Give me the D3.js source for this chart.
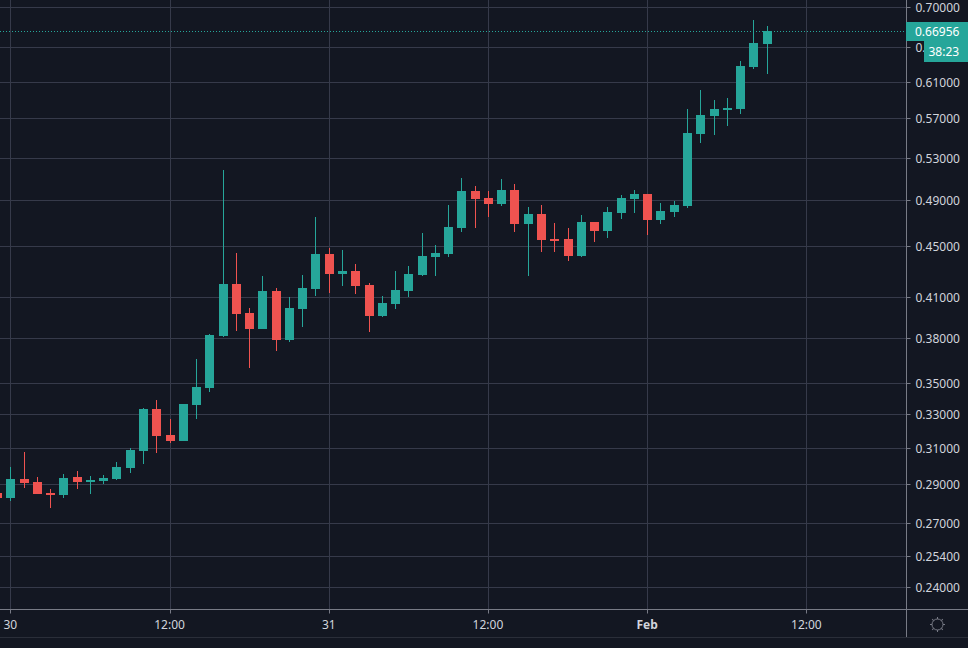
<!DOCTYPE html>
<html><head><meta charset="utf-8">
<script src="https://cdn.jsdelivr.net/npm/d3@7/dist/d3.min.js"></script>
<style>
html,body{margin:0;padding:0;background:#131722;overflow:hidden}
svg{display:block}
text{font-family:"Noto Sans",sans-serif;font-size:12px;fill:#d1d4dc}
</style></head><body>
<svg id="chart" width="968" height="648"></svg>
<script>
const opens=[.28543,.28280,.29289,.29128,.28543,.28437,.29397,.29128,.29182,.29289,.29890,.30844,.33330,.31768,.31418,.33577,.34646,.38138,.41981,.39792,.38634,.41443,.37858,.40086,.41596,.44372,.42763,.43000,.41903,.39572,.40459,.41443,.42683,.44125,.44372,.46552,.49843,.49203,.48662,.49935,.46897,.47772,.45616,.45616,.44207,.47071,.46296,.47860,.49113,.49569,.47245,.47949,.48481,.55375,.57243,.57882,.57988,.62662,.65381];
const highs=[.28543,.29945,.30787,.29397,.28753,.29562,.29726,.29452,.29507,.30224,.31014,.33391,.33889,.32720,.33640,.36553,.38280,.51812,.44454,.40160,.42604,.41672,.40984,.42683,.47506,.44865,.44700,.43560,.42059,.41060,.43000,.43399,.46126,.45114,.48571,.51053,.50305,.49843,.50960,.50492,.48391,.48571,.46984,.46552,.47683,.47071,.48391,.49477,.49935,.49569,.48752,.48932,.57988,.60059,.58961,.59178,.63362,.68343,.67586];
const lows=[.28280,.28123,.28806,.28490,.27763,.28280,.28753,.28490,.29020,.29236,.29617,.30113,.30730,.31303,.31418,.32720,.34393,.38067,.38492,.35950,.38634,.37096,.37719,.38776,.41060,.41290,.41825,.41214,.38421,.39498,.40086,.40984,.42604,.42604,.44125,.46211,.46552,.47506,.48481,.46211,.42604,.44536,.44536,.43802,.44125,.45365,.45700,.47332,.47860,.45955,.46897,.47506,.48302,.54462,.55272,.56195,.57456,.62433,.61860];
const closes=[.28280,.29289,.29074,.28490,.28437,.29343,.29128,.29236,.29343,.29945,.30900,.33330,.31709,.31418,.33640,.34710,.38209,.41981,.39718,.38634,.41443,.37858,.40160,.41672,.44372,.42763,.43000,.41825,.39572,.40534,.41519,.42763,.44207,.44454,.46637,.49843,.49113,.48662,.49935,.46897,.47772,.45532,.45532,.44207,.47071,.46296,.47949,.49203,.49569,.47245,.48036,.48571,.55476,.57350,.57988,.58095,.62779,.65502,.66956];
const priceTicks=[.70,.65,.61,.57,.53,.49,.45,.41,.38,.35,.33,.31,.29,.27,.254,.24];
const firstCandle=Date.UTC(2021,0,29,23);
const timeTicks=[Date.UTC(2021,0,30,0),Date.UTC(2021,0,30,12),Date.UTC(2021,0,31,0),Date.UTC(2021,0,31,12),Date.UTC(2021,1,1,0),Date.UTC(2021,1,1,12)];
const timeLabels=["30","12:00","31","12:00","Feb","12:00"];
const lastPrice=0.66956;
const countdown="38:23";

const W=968,H=648,plotW=906,plotH=609,axisBottom=637;
const UP="#26a69a",DOWN="#ef5350",GRID="#363a4a",AXIS="#787b86";
const svg=d3.select("#chart");
const hourPx=13.267, originPx=10.35, zero=timeTicks[0];
const hour=3600000;
const x=d3.scaleUtc()
  .domain([new Date(zero-hour*originPx/hourPx),new Date(zero+hour*(plotW-originPx)/hourPx)])
  .range([0,plotW]);
const pxPerLog=541.8;
const y=d3.scaleLog().domain([.70,.24]).range([7,7+pxPerLog*Math.log(.70/.24)]);

svg.append("rect").attr("width",W).attr("height",H).attr("fill","#131722");

// grid
const crisp=v=>Math.round(v)+.5;
const grid=svg.append("g").attr("stroke",GRID).attr("stroke-width",1);
grid.selectAll("line.h").data(priceTicks).join("line").attr("class","h")
  .attr("x1",0).attr("x2",plotW).attr("y1",d=>crisp(y(d))).attr("y2",d=>crisp(y(d)));
grid.selectAll("line.v").data(timeTicks).join("line").attr("class","v")
  .attr("y1",0).attr("y2",plotH).attr("x1",d=>crisp(x(new Date(d)))).attr("x2",d=>crisp(x(new Date(d))));

// candles
const candles=opens.map((o,i)=>({t:new Date(firstCandle+i*hour),o,h:highs[i],l:lows[i],c:closes[i]}));
svg.append("clipPath").attr("id","plot").append("rect").attr("width",plotW).attr("height",plotH);
const gC=svg.append("g").attr("clip-path","url(#plot)");
const colour=d=>d.c>=d.o?UP:DOWN;
gC.selectAll("rect.wick").data(candles).join("rect").attr("class","wick")
  .attr("x",d=>Math.round(x(d.t))).attr("width",1)
  .attr("y",d=>Math.round(y(d.h))).attr("height",d=>Math.round(y(d.l))-Math.round(y(d.h)))
  .attr("fill",colour);
gC.selectAll("rect.body").data(candles).join("rect").attr("class","body")
  .attr("x",d=>Math.round(x(d.t))-4).attr("width",9)
  .attr("y",d=>Math.round(y(Math.max(d.o,d.c))))
  .attr("height",d=>Math.max(2,Math.round(y(Math.min(d.o,d.c)))-Math.round(y(Math.max(d.o,d.c)))))
  .attr("fill",colour);

// last price dotted line
svg.append("line").attr("x1",0).attr("x2",plotW)
  .attr("y1",crisp(y(lastPrice))).attr("y2",crisp(y(lastPrice)))
  .attr("stroke",UP).attr("stroke-width",1).attr("stroke-dasharray","1 2");

// axes
const yAxis=d3.axisRight(y).tickValues(priceTicks).tickFormat(d3.format(".5f")).tickSize(4).tickPadding(5).offset(0);
const gy=svg.append("g").attr("transform",`translate(${plotW+.5},0)`).call(yAxis);
gy.select(".domain").remove();
gy.selectAll("line").attr("stroke",AXIS).attr("y1",d=>crisp(y(d))-y(d)).attr("y2",d=>crisp(y(d))-y(d));
gy.selectAll("text").attr("dy",5).attr("fill","#d1d4dc").style("font-family",'"Noto Sans",sans-serif').style("font-size","12px");

const tickDates=timeTicks.map(d=>new Date(d));
const xAxis=d3.axisBottom(x).tickValues(tickDates)
  .tickFormat((d,i)=>timeLabels[i]).tickSize(4).tickPadding(7).offset(0);
const gx=svg.append("g").attr("transform",`translate(0,${plotH+.5})`).call(xAxis);
gx.select(".domain").remove();
gx.selectAll("line").attr("stroke",AXIS).attr("x1",d=>crisp(x(d))-x(d)).attr("x2",d=>crisp(x(d))-x(d));
gx.selectAll("text").attr("fill","#d1d4dc").style("font-family",'"Noto Sans",sans-serif').style("font-size","12px")
  .style("font-weight",(d,i)=>timeLabels[i]==="Feb"?"700":"400");

// axis frame
const frame=svg.append("g").attr("stroke",AXIS);
frame.append("line").attr("x1",0).attr("x2",W).attr("y1",plotH+.5).attr("y2",plotH+.5);
frame.append("line").attr("x1",plotW+.5).attr("x2",plotW+.5).attr("y1",0).attr("y2",axisBottom);
frame.append("line").attr("x1",0).attr("x2",W).attr("y1",axisBottom+.5).attr("y2",axisBottom+.5).attr("stroke","#2a2e39");

// price label and countdown
svg.append("rect").attr("x",plotW).attr("y",22).attr("width",W-plotW).attr("height",19).attr("fill",UP);
svg.append("text").attr("x",915).attr("y",36).text(d3.format(".5f")(lastPrice)).style("fill","#ffffff");
svg.append("rect").attr("x",924).attr("y",41).attr("width",W-924).attr("height",21).attr("fill",UP);
svg.append("text").attr("x",928.5).attr("y",56).text(countdown).style("fill","#ffffff");

// settings icon
const gear=svg.append("g").attr("transform","translate(937.5,624.5)").attr("fill","none").attr("stroke","#787b86");
gear.append("circle").attr("r",5.5);
gear.selectAll("line").data(d3.range(0,360,45)).join("line")
  .attr("y1",-5.5).attr("y2",-7.5).attr("transform",d=>`rotate(${d})`);
</script>
</body></html>
